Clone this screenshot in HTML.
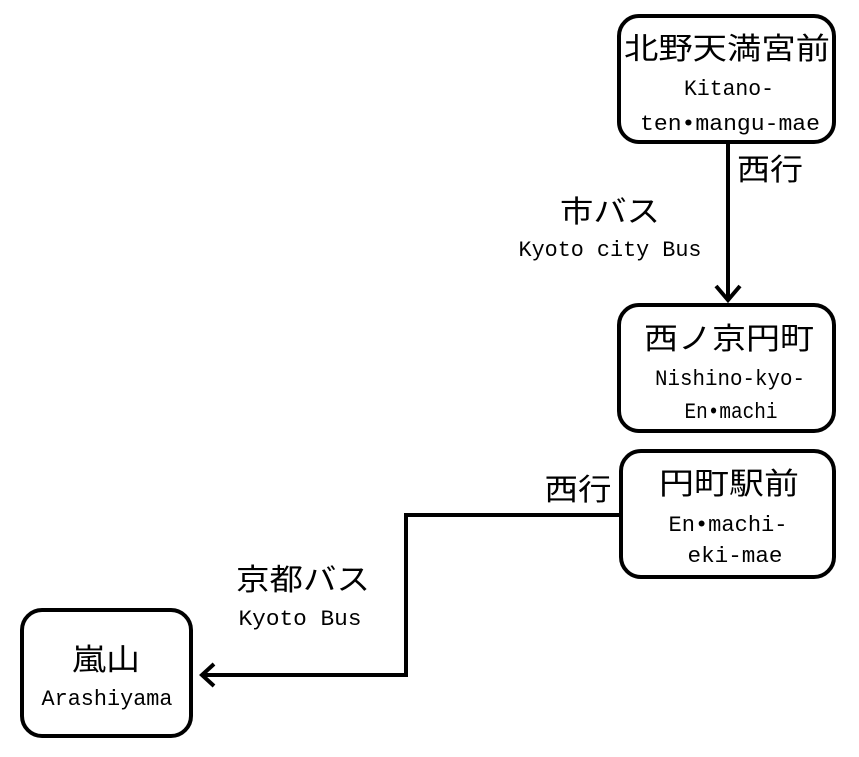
<!DOCTYPE html>
<html><head><meta charset="utf-8"><style>html,body{margin:0;padding:0;background:#fff}svg{display:block}</style></head>
<body>
<svg width="859" height="757" viewBox="0 0 859 757" xmlns="http://www.w3.org/2000/svg">
<g fill="#fff" stroke="#000" stroke-width="4">
<rect x="619" y="16" width="215" height="126" rx="20"/>
<rect x="619" y="305" width="215" height="126" rx="20"/>
<rect x="621" y="451" width="213" height="126" rx="20"/>
<rect x="22" y="610" width="169" height="126" rx="20"/>
</g>
<g fill="none" stroke="#000" stroke-width="4">
<line x1="728" y1="143" x2="728" y2="300"/>
<polyline points="716,286 728,300 740,286"/>
<polyline points="620,515 406,515 406,675 202,675"/>
<polyline points="214,664 202,675 214,686"/>
</g>
<g font-family="'Noto Sans CJK JP', sans-serif" font-size="30" text-anchor="middle" fill="#000">
<text x="727" y="59" textLength="206" lengthAdjust="spacingAndGlyphs">北野天満宮前</text>
<text x="729" y="349" textLength="170" lengthAdjust="spacingAndGlyphs">西ノ京円町</text>
<text x="729" y="494" textLength="140" lengthAdjust="spacingAndGlyphs">円町駅前</text>
<text x="106" y="670" textLength="68" lengthAdjust="spacingAndGlyphs">嵐山</text>
<text x="770" y="180" textLength="66" lengthAdjust="spacingAndGlyphs">西行</text>
<text x="610" y="222" textLength="100" lengthAdjust="spacingAndGlyphs">市バス</text>
<text x="578" y="500" textLength="67" lengthAdjust="spacingAndGlyphs">西行</text>
<text x="303" y="590" textLength="134" lengthAdjust="spacingAndGlyphs">京都バス</text>
</g>
<g font-family="'Liberation Mono', monospace" font-size="22" text-anchor="middle" fill="#000">
<text x="729" y="95" textLength="90" lengthAdjust="spacingAndGlyphs">Kitano-</text>
<text x="730" y="130" textLength="180" lengthAdjust="spacingAndGlyphs">ten•mangu-mae</text>
<text x="730" y="385" textLength="150" lengthAdjust="spacingAndGlyphs">Nishino-kyo-</text>
<text x="731" y="418" textLength="93" lengthAdjust="spacingAndGlyphs">En•machi</text>
<text x="728" y="531" textLength="119" lengthAdjust="spacingAndGlyphs">En•machi-</text>
<text x="735" y="562" textLength="95" lengthAdjust="spacingAndGlyphs">eki-mae</text>
<text x="107" y="705" textLength="131" lengthAdjust="spacingAndGlyphs">Arashiyama</text>
<text x="610" y="256" textLength="183" lengthAdjust="spacingAndGlyphs">Kyoto city Bus</text>
<text x="300" y="625" textLength="123" lengthAdjust="spacingAndGlyphs">Kyoto Bus</text>
</g>
</svg>
</body></html>
